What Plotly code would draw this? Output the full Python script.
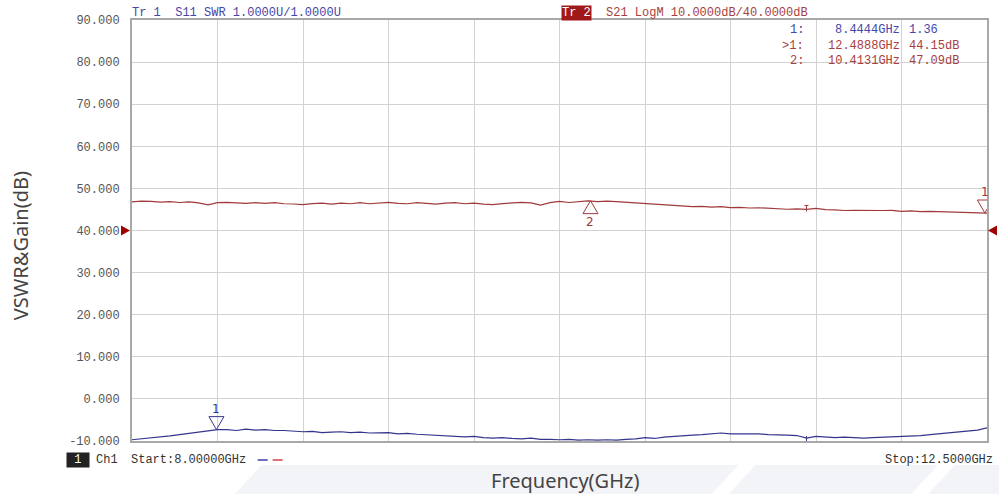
import plotly.graph_objects as go

# ---------------- data ----------------
freq_ghz = [
    8.00, 8.05, 8.10, 8.15, 8.20, 8.25, 8.30, 8.35, 8.40, 8.45,
    8.50, 8.55, 8.60, 8.65, 8.70, 8.75, 8.80, 8.85, 8.90, 8.95,
    9.00, 9.05, 9.10, 9.15, 9.20, 9.25, 9.30, 9.35, 9.40, 9.45,
    9.50, 9.55, 9.60, 9.65, 9.70, 9.75, 9.80, 9.85, 9.90, 9.95,
    10.00, 10.05, 10.10, 10.15, 10.20, 10.25, 10.30, 10.35, 10.40, 10.45,
    10.50, 10.55, 10.60, 10.65, 10.70, 10.75, 10.80, 10.85, 10.90, 10.95,
    11.00, 11.05, 11.10, 11.15, 11.20, 11.25, 11.30, 11.35, 11.40, 11.45,
    11.50, 11.55, 11.60, 11.65, 11.70, 11.75, 11.80, 11.85, 11.90, 11.95,
    12.00, 12.05, 12.10, 12.15, 12.20, 12.25, 12.30, 12.35, 12.40, 12.45,
    12.50,
]

s21_gain_db = [
    46.80, 47.00, 46.90, 46.75, 46.85, 46.65, 46.80, 46.55, 46.10, 46.60,
    46.70, 46.60, 46.45, 46.60, 46.45, 46.60, 46.35, 46.30, 46.15, 46.40,
    46.50, 46.25, 46.50, 46.35, 46.60, 46.35, 46.50, 46.70, 46.45, 46.35,
    46.60, 46.45, 46.25, 46.50, 46.60, 46.35, 46.50, 46.25, 46.15, 46.40,
    46.50, 46.70, 46.55, 46.05, 46.60, 46.90, 46.65, 46.90, 47.05, 46.85,
    47.00, 46.85, 46.70, 46.45, 46.30, 46.15, 46.00, 45.85, 45.85, 45.65,
    45.75, 45.55, 45.65, 45.45, 45.50, 45.35, 45.40, 45.25, 45.20, 45.05,
    45.15, 45.00, 45.25, 44.95, 44.90, 44.75, 44.80, 44.75, 44.65, 44.75,
    44.80, 44.55, 44.65, 44.50, 44.55, 44.50, 44.40, 44.45, 44.25, 44.20,
    44.15,
]

s11_vswr = [
    1.03, 1.05, 1.07, 1.10, 1.12, 1.15, 1.18, 1.21, 1.23, 1.27,
    1.27, 1.25, 1.28, 1.26, 1.27, 1.25, 1.25, 1.23, 1.22, 1.23,
    1.20, 1.21, 1.22, 1.20, 1.21, 1.19, 1.19, 1.20, 1.17, 1.18,
    1.16, 1.15, 1.14, 1.12, 1.12, 1.10, 1.11, 1.08, 1.07, 1.08,
    1.06, 1.05, 1.07, 1.04, 1.04, 1.03, 1.04, 1.02, 1.03, 1.02,
    1.03, 1.02, 1.04, 1.05, 1.08, 1.06, 1.09, 1.11, 1.12, 1.14,
    1.15, 1.17, 1.19, 1.17, 1.17, 1.16, 1.17, 1.15, 1.15, 1.14,
    1.13, 1.07, 1.11, 1.09, 1.08, 1.09, 1.08, 1.07, 1.08, 1.09,
    1.10, 1.10, 1.12, 1.13, 1.15, 1.17, 1.19, 1.22, 1.24, 1.26,
    1.31,
]

# markers (frequency, value)
s11_marker_ghz = [8.4444]
s11_marker_val = [1.27]
s11_marker_lbl = ["1"]

s21_marker_ghz = [12.4888, 10.4131]
s21_marker_val = [44.15, 47.09]
s21_marker_lbl = ["1", "2"]
s21_marker_dir = ["down", "up"]

flag_ghz = [11.55]

y_tick_vals = [-10, 0, 10, 20, 30, 40, 50, 60, 70, 80, 90]
y_tick_text = ["-10.000", "0.000", "10.000", "20.000", "30.000", "40.000",
               "50.000", "60.000", "70.000", "80.000", "90.000"]
ref_level_db = 40

table_idx = ["1:", ">1:", "2:"]
table_freq = ["8.4444GHz", "12.4888GHz", "10.4131GHz"]
table_val = ["1.36", "44.15dB", "47.09dB"]

# ---------------- styles ----------------
BLUE = "#35358C"
RED = "#A03A3C"
TXT_BLUE = "#4646A8"
TXT_RED = "#A83E3E"
MONO = "Liberation Mono"
W, H = 1001, 494
L, R, T, B = 132, 12, 20, 53
PW, PH = W - L - R, H - T - B


def px_x(p):
    return (p - L) / PW


def px_y(q):
    return (H - B - q) / PH


fig = go.Figure()

fig.add_trace(go.Scatter(x=freq_ghz, y=s21_gain_db, mode="lines",
                         line=dict(color=RED, width=1.2), yaxis="y",
                         hoverinfo="skip", showlegend=False))
fig.add_trace(go.Scatter(x=freq_ghz, y=s11_vswr, mode="lines",
                         line=dict(color=BLUE, width=1.2), yaxis="y2",
                         hoverinfo="skip", showlegend=False))

shapes = []
annotations = []

# watermark shapes (background)
for pts in [[(235, 494), (262, 465), (740, 465), (713, 494)],
            [(730, 494), (757, 465), (940, 465), (913, 494)],
            [(930, 494), (957, 465), (1001, 465), (1001, 494)]]:
    path = "M" + " L".join(f"{px_x(a):.4f},{px_y(b):.4f}" for a, b in pts) + " Z"
    shapes.append(dict(type="path", xref="paper", yref="paper", path=path,
                       fillcolor="#F3F4F7", line=dict(width=0), layer="below"))


def tri(xv, yv, yref, color, direction):
    if direction == "down":
        path = "M0,0 L-7.5,13 L7.5,13 Z"
    else:
        path = "M0,0 L-7.5,-13 L7.5,-13 Z"
    return dict(type="path", xref="x", yref=yref, xsizemode="pixel",
                ysizemode="pixel", xanchor=xv, yanchor=yv, path=path,
                line=dict(color=color, width=1), fillcolor="rgba(0,0,0,0)")


for xv, yv, lb in zip(s11_marker_ghz, s11_marker_val, s11_marker_lbl):
    shapes.append(tri(xv, yv, "y2", BLUE, "down"))
    annotations.append(dict(x=xv, y=yv, xref="x", yref="y2", yshift=21,
                            text=lb, showarrow=False,
                            font=dict(family="DejaVu Sans", size=12, color=BLUE)))

for xv, yv, lb, d in zip(s21_marker_ghz, s21_marker_val, s21_marker_lbl, s21_marker_dir):
    shapes.append(tri(xv, yv, "y", RED, d))
    annotations.append(dict(x=xv, y=yv, xref="x", yref="y",
                            yshift=21 if d == "down" else -21,
                            text=lb, showarrow=False,
                            font=dict(family="DejaVu Sans", size=12, color=RED)))

# small flags on traces
for fg in flag_ghz:
    i = freq_ghz.index(fg)
    shapes.append(dict(type="path", xref="x", yref="y", xsizemode="pixel",
                       ysizemode="pixel", xanchor=fg, yanchor=s21_gain_db[i],
                       path="M0,-2 L0,4 M-2,4 L2,4", line=dict(color=RED, width=1)))
    shapes.append(dict(type="path", xref="x", yref="y2", xsizemode="pixel",
                       ysizemode="pixel", xanchor=fg, yanchor=s11_vswr[i],
                       path="M0,2 L0,-5 M-2,-5 L2,-5", line=dict(color=BLUE, width=1)))

# reference level triangles (Tr 2 at 40 dB)
shapes.append(dict(type="path", xref="paper", yref="y", xsizemode="pixel",
                   ysizemode="pixel", xanchor=0, yanchor=ref_level_db,
                   path="M-11,5 L-2,0 L-11,-5 Z", fillcolor="#A00000",
                   line=dict(width=0)))
shapes.append(dict(type="path", xref="paper", yref="y", xsizemode="pixel",
                   ysizemode="pixel", xanchor=1, yanchor=ref_level_db,
                   path="M1,0 L10,5 L10,-5 Z", fillcolor="#A00000",
                   line=dict(width=0)))

# legend-like dashes at bottom
shapes.append(dict(type="line", xref="paper", yref="paper", x0=px_x(258), x1=px_x(268),
                   y0=px_y(460), y1=px_y(460), line=dict(color="#3C3CB0", width=1.5)))
shapes.append(dict(type="line", xref="paper", yref="paper", x0=px_x(273), x1=px_x(283),
                   y0=px_y(460), y1=px_y(460), line=dict(color="#D04050", width=1.5)))


def txt(text, xp, yp, color, xanchor="left", size=12, family=MONO, **kw):
    d = dict(text=text, x=px_x(xp), y=px_y(yp), xref="paper", yref="paper",
             xanchor=xanchor, yanchor="middle", showarrow=False,
             font=dict(family=family, size=size, color=color))
    d.update(kw)
    return d


annotations.append(txt("Tr 1  S11 SWR 1.0000U/1.0000U", 130, 13, TXT_BLUE))
annotations.append(txt("Tr 2", 562, 13, "white", bgcolor="#A01818", borderpad=0))
annotations.append(txt("S21 LogM 10.0000dB/40.0000dB", 605, 13, TXT_RED))

rows_y = [30, 46, 61]
for k in range(3):
    col = TXT_BLUE if k == 0 else TXT_RED
    annotations.append(txt(table_idx[k], 808, rows_y[k], col, xanchor="right"))
    annotations.append(txt(table_freq[k], 904, rows_y[k], col, xanchor="right"))
    annotations.append(txt(table_val[k], 909, rows_y[k], col))

annotations.append(txt(" 1 ", 66, 460, "white", bgcolor="#222222", borderpad=0))
annotations.append(txt("Ch1", 94, 460, "#333333"))
annotations.append(txt("Start:8.00000GHz", 129, 460, "#333333"))
annotations.append(txt("Stop:12.5000GHz", 997, 460, "#333333", xanchor="right"))

annotations.append(txt("Frequency(GHz)", 566, 480, "#444444", xanchor="center",
                       size=20, family="Noto Sans"))
annotations.append(dict(text="VSWR&Gain(dB)", x=px_x(20), y=px_y(246),
                        xref="paper", yref="paper", xanchor="center",
                        yanchor="middle", textangle=-90, showarrow=False,
                        font=dict(family="Noto Sans", size=20, color="#444444")))

fig.update_layout(
    width=W, height=H,
    margin=dict(l=L, r=R, t=T, b=B, pad=0),
    paper_bgcolor="white", plot_bgcolor="white",
    showlegend=False,
    xaxis=dict(range=[8, 12.5], tick0=8, dtick=0.45, showticklabels=False,
               showgrid=True, gridcolor="#D2D2D2", gridwidth=1, zeroline=False,
               showline=True, mirror=True, linecolor="#A8A8A8", linewidth=2,
               ticks=""),
    yaxis=dict(range=[-10, 90], tickvals=y_tick_vals, ticktext=y_tick_text,
               showgrid=True, gridcolor="#D2D2D2", gridwidth=1, zeroline=False,
               showline=True, mirror=True, linecolor="#A8A8A8", linewidth=2,
               ticks="", ticklabelstandoff=8,
               tickfont=dict(family=MONO, size=12, color="#555555")),
    yaxis2=dict(range=[1, 11], overlaying="y", visible=False),
    shapes=shapes,
    annotations=annotations,
)

fig.write_html("out.html", config={"displayModeBar": False},
               post_script="document.body.style.margin='0px';")
